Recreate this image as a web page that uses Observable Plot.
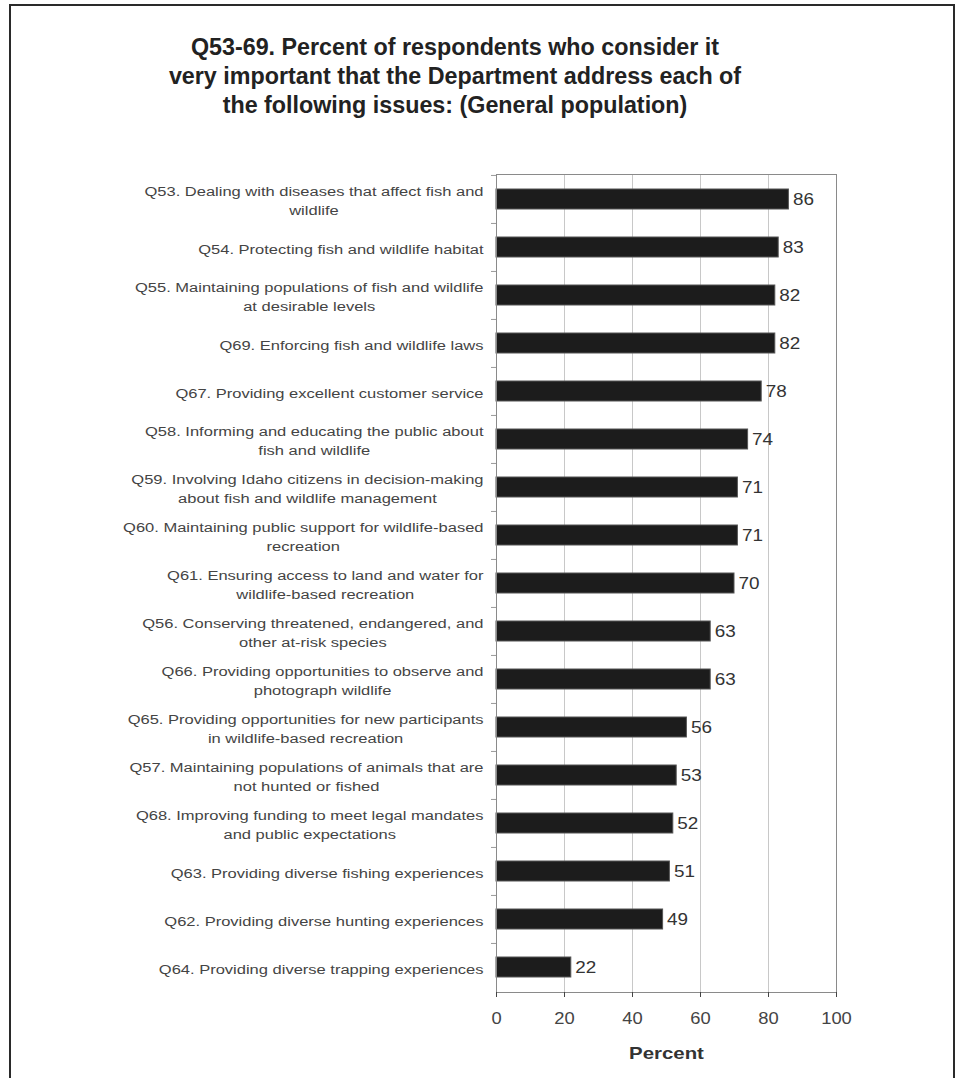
<!DOCTYPE html>
<html>
<head>
<meta charset="utf-8">
<script src="https://cdn.jsdelivr.net/npm/d3@7"></script>
<script src="https://cdn.jsdelivr.net/npm/@observablehq/plot@0.6"></script>
<style>
  html, body { margin: 0; padding: 0; background: #fff; }
  #wrap { position: relative; width: 961px; height: 1078px; overflow: hidden; font-family: "Liberation Sans", Arial, sans-serif; }
  #frame { position: absolute; left: 9px; top: 4px; width: 946px; height: 1100px; border: 2px solid #2a2a2a; border-bottom: none; box-sizing: border-box; }
  #title { position: relative; width: 910px; height: 140px; box-sizing: border-box; padding-top: 33px; text-align: center; font-weight: bold; font-size: 23.3px; line-height: 29px; color: #222; }
  #chart { position: relative; }
</style>
</head>
<body>
<div id="wrap">
  <div id="frame"></div>
  <div id="title">Q53-69. Percent of respondents who consider it<br>very important that the Department address each of<br>the following issues: (General population)</div>
  <div id="chart"></div>
</div>
<script>
const labels = [
  "Q53. Dealing with diseases that affect fish and\nwildlife",
  "Q54. Protecting fish and wildlife habitat",
  "Q55. Maintaining populations of fish and wildlife\nat desirable levels",
  "Q69. Enforcing fish and wildlife laws",
  "Q67. Providing excellent customer service",
  "Q58. Informing and educating the public about\nfish and wildlife",
  "Q59. Involving Idaho citizens in decision-making\nabout fish and wildlife management",
  "Q60. Maintaining public support for wildlife-based\nrecreation",
  "Q61. Ensuring access to land and water for\nwildlife-based recreation",
  "Q56. Conserving threatened, endangered, and\nother at-risk species",
  "Q66. Providing opportunities to observe and\nphotograph wildlife",
  "Q65. Providing opportunities for new participants\nin wildlife-based recreation",
  "Q57. Maintaining populations of animals that are\nnot hunted or fished",
  "Q68. Improving funding to meet legal mandates\nand public expectations",
  "Q63. Providing diverse fishing experiences",
  "Q62. Providing diverse hunting experiences",
  "Q64. Providing diverse trapping experiences"
];
const values = [86, 83, 82, 82, 78, 74, 71, 71, 70, 63, 63, 56, 53, 52, 51, 49, 22];
const xTicks = [0, 20, 40, 60, 80, 100];
const gridTicks = [20, 40, 60, 80];
const xLabel = "Percent";

const data = labels.map((l, i) => ({label: l, value: values[i]}));

const plotTop = 34, plotBottom = 86, H = 938;
const step = (H - plotTop - plotBottom) / labels.length;

const chart = Plot.plot({
  width: 961,
  height: H,
  marginLeft: 496,
  marginRight: 125,
  marginTop: plotTop,
  marginBottom: plotBottom,
  style: {fontFamily: "'Liberation Sans', Arial, sans-serif", background: "transparent"},
  x: {domain: [0, 100]},
  y: {domain: labels, paddingInner: 0.58, paddingOuter: 0.29},
  marks: [
    Plot.gridX(gridTicks, {stroke: "#c8c8c8", strokeOpacity: 1}),
    Plot.barX(data, {x: "value", y: "label", fill: "#1c1c1c", stroke: "#555", strokeWidth: 1}),
    Plot.frame({stroke: "#8a8a8a"}),
    Plot.text(data, {x: "value", y: "label", text: d => String(d.value), dx: 4, textAnchor: "start", fontSize: 16, fill: "#333", className: "vals"}),
    Plot.axisY({tickSize: 0, tickPadding: 13, fontSize: 12.5, lineHeight: 1.55, color: "#444", label: null, tickFormat: d => d, className: "ylab"}),
    Plot.axisY({tickSize: 5, tickFormat: () => "", dy: -step / 2, color: "#999", label: null}),
    Plot.axisX({ticks: xTicks, tickSize: 5, tickPadding: 14, fontSize: 17, color: "#444", label: null, tickFormat: d => String(d), className: "xlab"}),
    Plot.text([xLabel], {frameAnchor: "bottom", text: d => d, dy: 61, lineAnchor: "middle", fontSize: 17, fontWeight: "bold", fill: "#333", className: "xtitle"})
  ]
});
document.getElementById("chart").appendChild(chart);

function stretchEl(el, k) {
  const w = el.getComputedTextLength();
  el.setAttribute("textLength", (w * k).toFixed(2));
  el.setAttribute("lengthAdjust", "spacingAndGlyphs");
  return w * k;
}
function stretch(selector, k, centerLines) {
  chart.querySelectorAll(selector).forEach(t => {
    const spans = t.querySelectorAll("tspan");
    if (spans.length > 0) {
      const ws = Array.from(spans, s => stretchEl(s, k));
      if (centerLines && spans.length > 1) {
        const W = Math.max(...ws);
        spans.forEach((s, i) => s.setAttribute("dx", (-(W - ws[i]) / 2).toFixed(2)));
      }
    } else {
      stretchEl(t, k);
    }
  });
}
stretch(".ylab text", 1.32, true);
stretch(".vals text", 1.18, false);
stretch(".xlab text", 1.08, false);
stretch(".xtitle text", 1.2, false);
</script>
</body>
</html>
